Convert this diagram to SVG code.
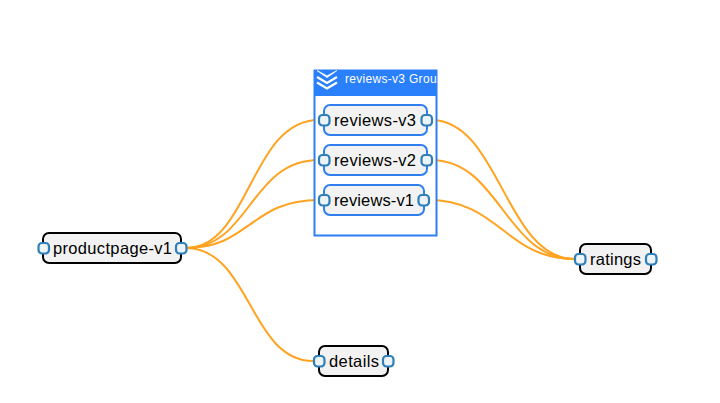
<svg xmlns="http://www.w3.org/2000/svg" width="720" height="403" viewBox="0 0 720 403">
<style>
text{font-family:"Liberation Sans",Arial,sans-serif;}
.n{fill:#f2f2f2;stroke:#000;stroke-width:2;}
.b{fill:#f2f2f2;stroke:#2f7ff0;stroke-width:2;}
.l{font-size:16.5px;fill:#000;text-anchor:middle;}
.p{fill:#eef3f7;stroke:#2f7fb8;stroke-width:2.200;}
.c{fill:none;stroke:#ffa321;stroke-width:2;}
</style>
<defs><clipPath id="hc"><rect x="314" y="70" width="123" height="26"/></clipPath></defs>
<rect width="720" height="403" fill="#fff"/>
<g id="connectors">
<path class="c" d="M186 248C250 248 250 120 319 120"/>
<path class="c" d="M186 248C250 248 250 160 319 160"/>
<path class="c" d="M186 248C250 248 250 200 319 200"/>
<path class="c" d="M186 248C250 248 250 361 313 361"/>
<path class="c" d="M431 120C500 120 505 259 575 259"/>
<path class="c" d="M431 160C500 160 505 259 575 259"/>
<path class="c" d="M428 200C500 200 505 259 575 259"/>
</g>
<g id="group-reviews-v3">
<rect x="314.500" y="70.500" width="122" height="165" fill="#fff" stroke="#2f7ff0" stroke-width="2"/>
<rect x="314" y="70" width="123" height="26" fill="#2a7ffb"/>
<g clip-path="url(#hc)">
<path d="M317 70l10 5.500 10-5.500v1l-10 7-10-7z" fill="#fff"/>
<g fill="none" stroke="#fff" stroke-width="2.200">
<path d="M317 77l10 6 10-6"/>
<path d="M317 82.500l10 6 10-6"/>
</g>
<text x="345" y="83" font-size="12px" fill="#fff" letter-spacing="0.300">reviews-v3 Group</text>
</g>
</g>
<g id="reviews-v3">
<rect class="b" x="324" y="105" width="103" height="30" rx="6"/>
<text class="l" x="375" y="126" textLength="82" lengthAdjust="spacing">reviews-v3</text>
<rect class="p" x="319" y="115" width="10.500" height="10.500" rx="3.500"/>
<rect class="p" x="421.500" y="115" width="10.500" height="10.500" rx="3.500"/>
</g>
<g id="reviews-v2">
<rect class="b" x="324" y="145" width="103" height="30" rx="6"/>
<text class="l" x="375" y="166" textLength="82" lengthAdjust="spacing">reviews-v2</text>
<rect class="p" x="319" y="155" width="10.500" height="10.500" rx="3.500"/>
<rect class="p" x="421.500" y="155" width="10.500" height="10.500" rx="3.500"/>
</g>
<g id="reviews-v1">
<rect class="b" x="324" y="185" width="100" height="30" rx="6"/>
<text class="l" x="374" y="206" textLength="80" lengthAdjust="spacing">reviews-v1</text>
<rect class="p" x="319" y="195" width="10.500" height="10.500" rx="3.500"/>
<rect class="p" x="418.500" y="195" width="10.500" height="10.500" rx="3.500"/>
</g>
<g id="productpage-v1">
<rect class="n" x="43" y="233" width="138" height="30" rx="6"/>
<text class="l" x="112.500" y="254" textLength="119" lengthAdjust="spacing">productpage-v1</text>
<rect class="p" x="38.500" y="243" width="10.500" height="10.500" rx="3.500"/>
<rect class="p" x="176" y="243" width="10.500" height="10.500" rx="3.500"/>
</g>
<g id="ratings">
<rect class="n" x="580" y="244" width="71" height="30" rx="6"/>
<text class="l" x="615.500" y="265" textLength="51" lengthAdjust="spacing">ratings</text>
<rect class="p" x="575" y="254" width="10.500" height="10.500" rx="3.500"/>
<rect class="p" x="646" y="254" width="10.500" height="10.500" rx="3.500"/>
</g>
<g id="details">
<rect class="n" x="319" y="346" width="69" height="30" rx="6"/>
<text class="l" x="354" y="367" textLength="50" lengthAdjust="spacing">details</text>
<rect class="p" x="314" y="356" width="10.500" height="10.500" rx="3.500"/>
<rect class="p" x="383" y="356" width="10.500" height="10.500" rx="3.500"/>
</g>
</svg>
